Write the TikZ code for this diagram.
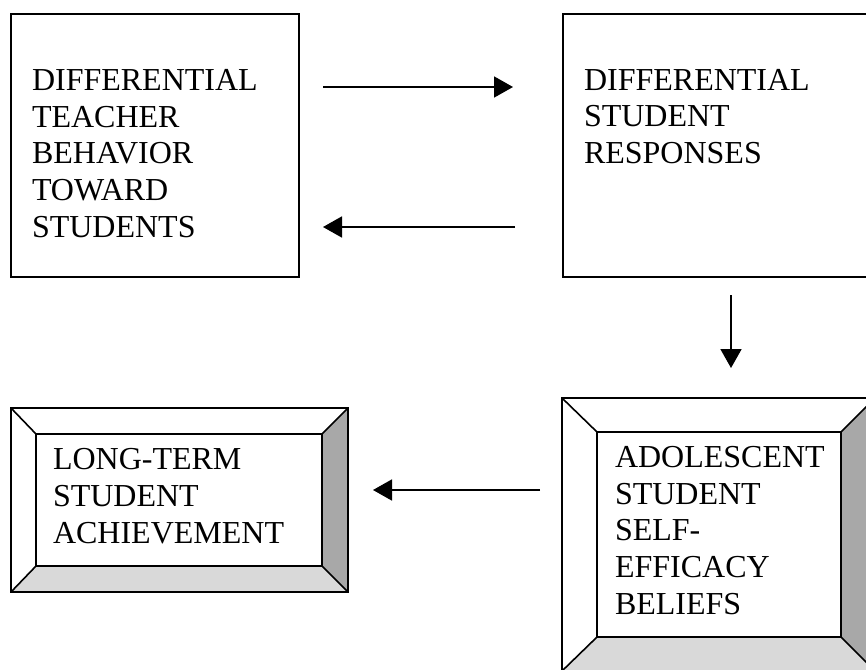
\documentclass[tikz,border=0pt]{standalone}
\usepackage{fontspec}
\setmainfont{Liberation Serif}
\usetikzlibrary{arrows.meta}
\definecolor{bevdark}{HTML}{A8A8A8}
\definecolor{bevlight}{HTML}{D9D9D9}
\begin{document}
\begin{tikzpicture}[x=1pt,y=-1pt,
  box/.style={draw,line width=1.6pt,inner sep=0pt,outer sep=0pt},
  txt/.style={inner sep=0pt,outer sep=0pt,anchor=base west,align=left,
              font=\fontsize{32}{36.6}\selectfont},
  arr/.style={line width=1.8pt,-{Triangle[length=19pt,width=21pt]}},
  bevline/.style={line width=1.6pt,line join=miter}]
\path[use as bounding box,clip] (0,0) rectangle (866,669);
\fill[white] (0,0) rectangle (866,669);

% top boxes
\node[box,minimum width=288pt,minimum height=263pt] (b1) at (155,145.5) {};
\node[box,minimum width=337pt,minimum height=263pt] (b2) at (731.5,145.5) {};
\node[txt] (t1) at (32,237) {DIFFERENTIAL\\TEACHER\\BEHAVIOR\\TOWARD\\STUDENTS};
\node[txt] (t2) at (584,163.5) {DIFFERENTIAL\\STUDENT\\RESPONSES};

% bevel boxes: outer and inner rectangles
\node[inner sep=0pt,outer sep=0pt,minimum width=337pt,minimum height=184pt] (v1) at (179.5,500) {};
\node[inner sep=0pt,outer sep=0pt,minimum width=286pt,minimum height=132pt] (v1i) at (179,500) {};
\node[inner sep=0pt,outer sep=0pt,minimum width=313pt,minimum height=273pt] (v2) at (718.5,534.5) {};
\node[inner sep=0pt,outer sep=0pt,minimum width=244pt,minimum height=205pt] (v2i) at (719,534.5) {};

\foreach \o/\i in {v1/v1i,v2/v2i}{
  \fill[bevdark] (\o.north east) -- (\i.north east) -- (\i.south east) -- (\o.south east) -- cycle;
  \fill[bevlight] (\o.south west) -- (\i.south west) -- (\i.south east) -- (\o.south east) -- cycle;
  \draw[bevline] (\o.north west) rectangle (\o.south east);
  \draw[bevline] (\i.north west) rectangle (\i.south east);
  \draw[bevline] (\o.north west) -- (\i.north west);
  \draw[bevline] (\o.north east) -- (\i.north east);
  \draw[bevline] (\o.south west) -- (\i.south west);
  \draw[bevline] (\o.south east) -- (\i.south east);
}
\node[txt] (t3) at (53,543) {LONG-TERM\\STUDENT\\ACHIEVEMENT};
\node[txt] (t4) at (615,614) {ADOLESCENT\\STUDENT\\SELF-\\EFFICACY\\BELIEFS};

% connectors
\coordinate (ya) at (0,87);
\coordinate (yb) at (0,227);
\coordinate (yc) at (0,490);
\coordinate (xd) at (731,0);
\draw[arr,shorten <=24pt,shorten >=50pt] (b1.east |- ya) -- (b2.west |- ya);
\draw[arr,shorten <=48pt,shorten >=24pt] (b2.west |- yb) -- (b1.east |- yb);
\draw[arr,shorten <=18pt,shorten >=30pt] (xd |- b2.south) -- (xd |- v2.north);
\draw[arr,shorten <=22pt,shorten >=25pt] (v2.west |- yc) -- (v1.east |- yc);
\end{tikzpicture}
\end{document}
